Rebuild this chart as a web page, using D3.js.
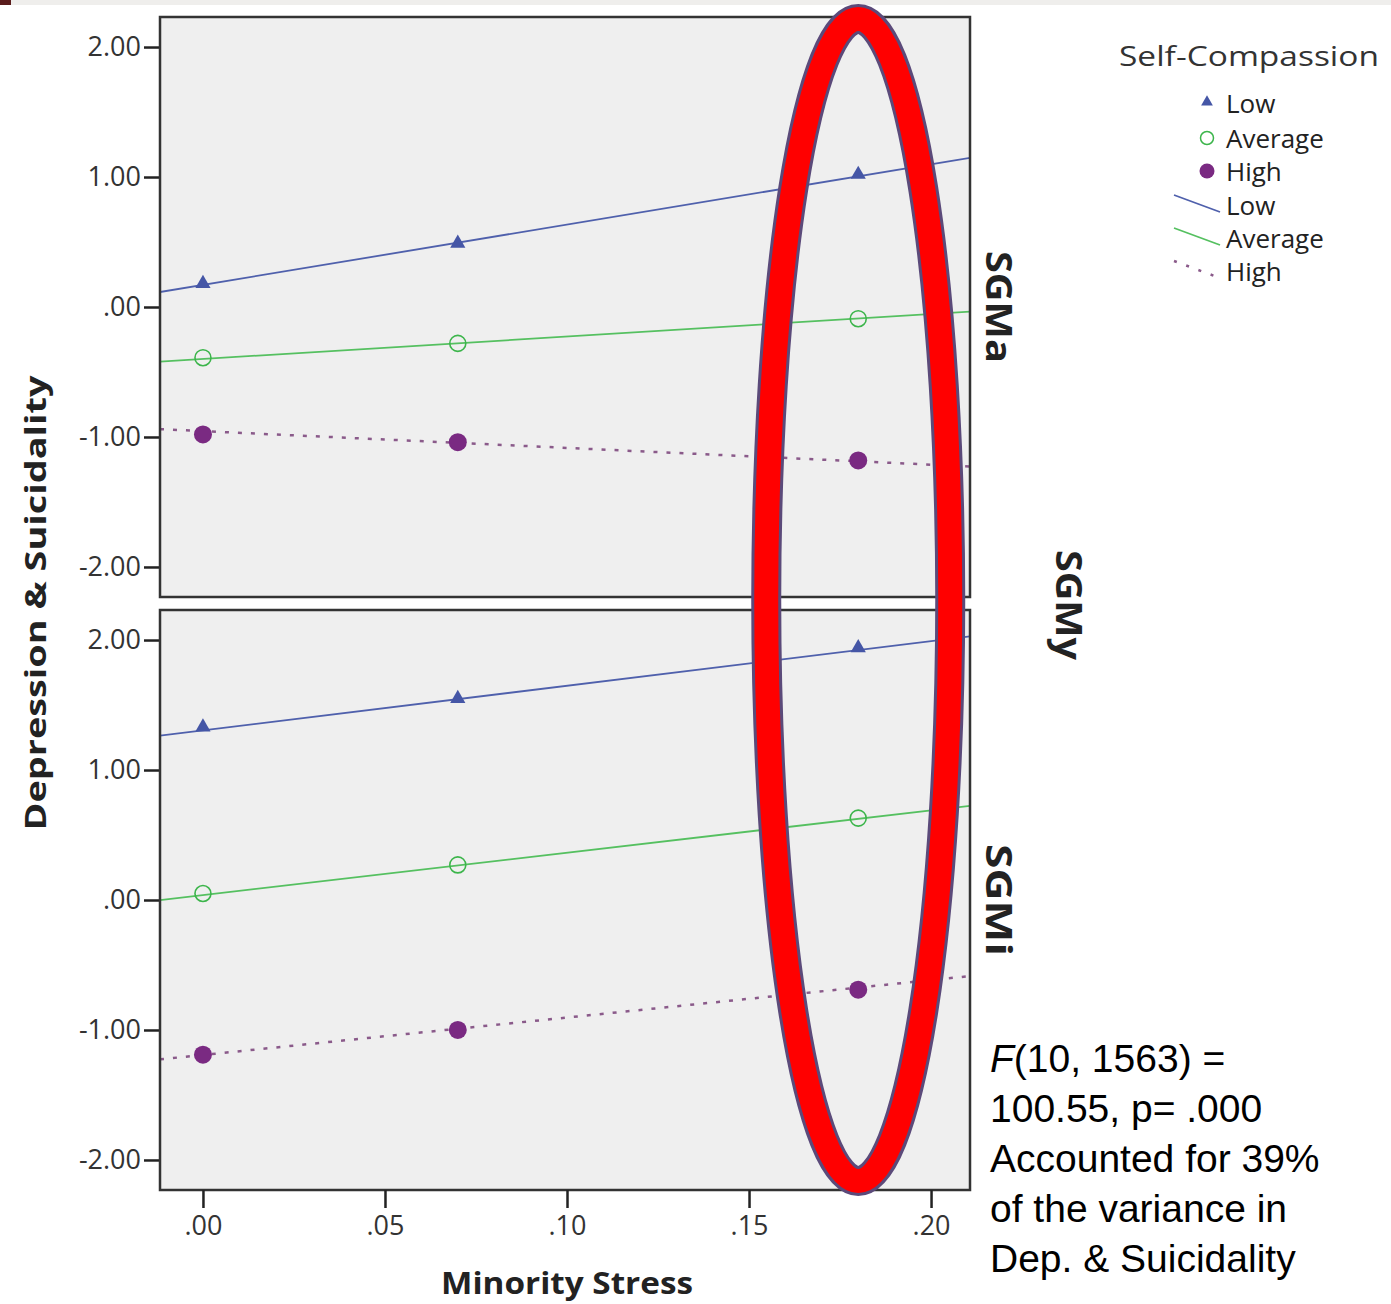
<!DOCTYPE html>
<html lang="en">
<head>
<meta charset="utf-8">
<title>Depression & Suicidality by Minority Stress</title>
<script src="https://unpkg.com/d3@7/dist/d3.min.js"></script>
<style>
  body { margin: 0; background: #fff; }
</style>
</head>
<body>
<script>
// --- data ---
var panels = ["SGMa", "SGMi"];
var groups = ["Low", "Average", "High"];
var stressLevels = [0, 0.07, 0.18];
var xTicks = [0, 0.05, 0.10, 0.15, 0.20];
var yTicks = [2, 1, 0, -1, -2];

// observed means per group (SGMa panel, SGMi panel)
var sgmaLow = [0.18, 0.49, 1.02];
var sgmaAverage = [-0.39, -0.28, -0.09];
var sgmaHigh = [-0.98, -1.04, -1.18];
var sgmiLow = [1.33, 1.55, 1.94];
var sgmiAverage = [0.05, 0.27, 0.63];
var sgmiHigh = [-1.19, -1.00, -0.69];

// fitted lines: intercept, slope
var sgmaFitIntercept = [0.17, -0.40, -0.955];
var sgmaFitSlope = [4.64, 1.73, -1.29];
var sgmiFitIntercept = [1.305, 0.038, -1.192];
var sgmiFitSlope = [3.43, 3.26, 2.88];

var panelMeans = [[sgmaLow, sgmaAverage, sgmaHigh], [sgmiLow, sgmiAverage, sgmiHigh]];
var panelFits = [
  [sgmaFitIntercept, sgmaFitSlope],
  [sgmiFitIntercept, sgmiFitSlope]
];

var colors = { Low: "#4556a6", Average: "#3cb54b", High: "#7a2a82" };
var lineColors = { Low: "#4f60ac", Average: "#55c060", High: "#8a5a8a" };

var FONT = "'Open Sans', 'DejaVu Sans', sans-serif";
var W = 1391, H = 1304;
var left = 160, right = 970;
var panelTops = [17, 610];
var panelH = 580;

var svg = d3.select("body").append("svg")
  .attr("width", W).attr("height", H)
  .attr("font-family", FONT);

// strip at top of the slide
svg.append("rect").attr("x", 0).attr("y", 0).attr("width", W).attr("height", 5).attr("fill", "#efeeec");
svg.append("rect").attr("x", 0).attr("y", 0).attr("width", 11).attr("height", 5).attr("fill", "#5a1c1c");

var x = d3.scaleLinear().domain([-0.0118, 0.2107]).range([left, right]);
var defs = svg.append("defs");

var fmt = function(d) {
  return d3.format(".2f")(d).replace("\u2212", "-").replace(/^(-?)0\./, "$1.");
};

panels.forEach(function(p, pi) {
  var top = panelTops[pi];
  var y = d3.scaleLinear().domain([-2.231, 2.231]).range([top + panelH, top]);
  var g = svg.append("g");

  g.append("rect")
    .attr("x", left).attr("y", top)
    .attr("width", right - left).attr("height", panelH)
    .attr("fill", "#efefef");

  var clipId = "clip" + pi;
  defs.append("clipPath").attr("id", clipId)
    .append("rect").attr("x", left).attr("y", top).attr("width", right - left).attr("height", panelH);

  // y axis
  var yAxis = g.append("g")
    .attr("transform", "translate(" + left + ",0)")
    .call(d3.axisLeft(y).tickValues(yTicks).tickSize(16).tickPadding(3).tickFormat(fmt));
  yAxis.select(".domain").remove();
  yAxis.selectAll("line").attr("stroke", "#222").attr("stroke-width", 2.5);
  yAxis.selectAll("text").attr("font-size", 27).attr("fill", "#333").attr("font-family", FONT);

  // fit lines
  var fits = panelFits[pi];
  var lineGen = d3.line().x(function(d) { return x(d[0]); }).y(function(d) { return y(d[1]); });
  groups.forEach(function(grp, gi) {
    var a = fits[0][gi], b = fits[1][gi];
    var ends = x.domain().map(function(v) { return [v, a + b * v]; });
    g.append("path")
      .attr("d", lineGen(ends))
      .attr("clip-path", "url(#" + clipId + ")")
      .attr("fill", "none")
      .attr("stroke", lineColors[grp])
      .attr("stroke-width", grp === "High" ? 2.5 : 1.8)
      .attr("stroke-dasharray", grp === "High" ? "4,9" : null);
  });

  // markers
  var means = panelMeans[pi];
  groups.forEach(function(grp, gi) {
    var pts = stressLevels.map(function(s, i) { return [s, means[gi][i]]; });
    var sel = g.selectAll(null).data(pts).enter();
    if (grp === "Low") {
      sel.append("path")
        .attr("d", d3.symbol().type(d3.symbolTriangle).size(100))
        .attr("transform", function(d) { return "translate(" + x(d[0]) + "," + y(d[1]) + ")"; })
        .attr("fill", colors.Low);
    } else if (grp === "Average") {
      sel.append("circle")
        .attr("cx", function(d) { return x(d[0]); })
        .attr("cy", function(d) { return y(d[1]); })
        .attr("r", 8).attr("fill", "none")
        .attr("stroke", colors.Average).attr("stroke-width", 1.6);
    } else {
      sel.append("circle")
        .attr("cx", function(d) { return x(d[0]); })
        .attr("cy", function(d) { return y(d[1]); })
        .attr("r", 9).attr("fill", colors.High);
    }
  });

  // frame
  g.append("rect")
    .attr("x", left).attr("y", top)
    .attr("width", right - left).attr("height", panelH)
    .attr("fill", "none").attr("stroke", "#333").attr("stroke-width", 2.5);

  // facet label
  g.append("text")
    .attr("transform", "translate(" + 986 + "," + (top + panelH / 2) + ") rotate(90)")
    .attr("text-anchor", "middle")
    .attr("font-size", 36).attr("font-weight", "bold").attr("fill", "#222")
    .attr("textLength", 112).attr("lengthAdjust", "spacingAndGlyphs")
    .text(p);
});

// x axis under the bottom panel
var xAxis = svg.append("g")
  .attr("transform", "translate(0," + (panelTops[1] + panelH) + ")")
  .call(d3.axisBottom(x).tickValues(xTicks).tickSize(18).tickPadding(8).tickFormat(fmt));
xAxis.select(".domain").remove();
xAxis.selectAll("line").attr("stroke", "#222").attr("stroke-width", 2.5);
xAxis.selectAll("text").attr("font-size", 27).attr("fill", "#333").attr("font-family", FONT);

// axis titles
svg.append("text")
  .attr("x", 567).attr("y", 1294)
  .attr("text-anchor", "middle")
  .attr("font-size", 30).attr("font-weight", "bold").attr("fill", "#222")
  .attr("textLength", 252).attr("lengthAdjust", "spacingAndGlyphs")
  .text("Minority Stress");

svg.append("text")
  .attr("transform", "translate(46,603) rotate(-90)")
  .attr("text-anchor", "middle")
  .attr("font-size", 28).attr("font-weight", "bold").attr("fill", "#222")
  .attr("textLength", 455).attr("lengthAdjust", "spacingAndGlyphs")
  .text("Depression & Suicidality");

svg.append("text")
  .attr("transform", "translate(1056,605) rotate(90)")
  .attr("text-anchor", "middle")
  .attr("font-size", 36).attr("font-weight", "bold").attr("fill", "#222")
  .attr("textLength", 110).attr("lengthAdjust", "spacingAndGlyphs")
  .text("SGMy");

// legend
var lg = svg.append("g");
lg.append("text").attr("x", 1119).attr("y", 66)
  .attr("font-size", 28).attr("fill", "#333")
  .attr("textLength", 260).attr("lengthAdjust", "spacingAndGlyphs")
  .text("Self-Compassion");

var rowY = [103, 138, 171, 205, 238, 271];
groups.forEach(function(grp, gi) {
  var yy = rowY[gi];
  if (grp === "Low") {
    lg.append("path").attr("d", d3.symbol().type(d3.symbolTriangle).size(60))
      .attr("transform", "translate(1207," + (yy - 1) + ")").attr("fill", colors.Low);
  } else if (grp === "Average") {
    lg.append("circle").attr("cx", 1207).attr("cy", yy).attr("r", 6.5)
      .attr("fill", "none").attr("stroke", colors.Average).attr("stroke-width", 1.5);
  } else {
    lg.append("circle").attr("cx", 1207).attr("cy", yy).attr("r", 7.5).attr("fill", colors.High);
  }
  lg.append("text").attr("x", 1226).attr("y", yy + 10)
    .attr("font-size", 26).attr("fill", "#222").text(grp);
});
groups.forEach(function(grp, gi) {
  var yy = rowY[gi + 3];
  lg.append("line")
    .attr("x1", 1174).attr("y1", yy - 10).attr("x2", 1220).attr("y2", yy + 7)
    .attr("stroke", lineColors[grp]).attr("stroke-width", grp === "High" ? 2.5 : 1.8)
    .attr("stroke-dasharray", grp === "High" ? "3,10" : null);
  lg.append("text").attr("x", 1226).attr("y", yy + 10)
    .attr("font-size", 26).attr("fill", "#222").text(grp);
});

// highlight ellipse around stress = .18
svg.append("ellipse")
  .attr("cx", x(0.18)).attr("cy", 600).attr("rx", 92).attr("ry", 581)
  .attr("fill", "none").attr("stroke", "#5b4a7a").attr("stroke-width", 30);
svg.append("ellipse")
  .attr("cx", x(0.18)).attr("cy", 600).attr("rx", 92).attr("ry", 581)
  .attr("fill", "none").attr("stroke", "#ff0000").attr("stroke-width", 24);

// annotation
var note = svg.append("text")
  .attr("font-family", "'Liberation Sans', Arial, sans-serif")
  .attr("font-size", 39).attr("fill", "#000");
var noteLines = ["(10, 1563) =", "100.55, p= .000", "Accounted for 39%", "of the variance in", "Dep. & Suicidality"];
noteLines.forEach(function(t, i) {
  var ts = note.append("tspan").attr("x", 990).attr("y", 1072 + i * 50);
  if (i === 0) {
    ts.append("tspan").attr("font-style", "italic").text("F");
    ts.append("tspan").text(t);
  } else {
    ts.text(t);
  }
});
</script>
</body>
</html>
